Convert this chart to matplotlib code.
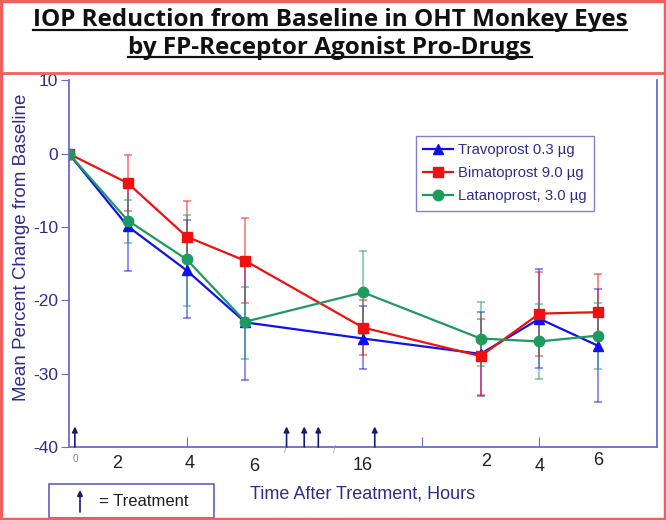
import numpy as np
import matplotlib
matplotlib.use("Agg")
import matplotlib.pyplot as plt
from matplotlib.patches import Rectangle
from matplotlib.lines import Line2D

# time of each reading in hours after first dose (day-2 readings at 24 + h)
hours = [0, 2, 4, 6, 16, 26, 28, 30]
hour_labels = ["0", "2", "4", "6", "16", "2", "4", "6"]
treatment_hours = [0.2, 9.5, 11, 12.2, 17]

travo = [0, -9.9, -15.9, -23.0, -25.2, -27.3, -22.5, -26.2]
travo_lo = [0, -16.0, -22.4, -30.8, -29.4, -33.0, -29.2, -33.8]
travo_hi = [0, -3.8, -9.0, -15.2, -20.8, -21.6, -15.7, -18.5]

bimat = [0, -4.0, -11.3, -14.6, -23.7, -27.6, -21.8, -21.6]
bimat_lo = [0, -7.8, -16.2, -20.4, -27.5, -32.9, -27.6, -26.8]
bimat_hi = [0, -0.2, -6.5, -8.7, -20.0, -22.6, -16.1, -16.4]

latan = [0, -9.1, -14.4, -22.9, -18.9, -25.2, -25.6, -24.8]
latan_lo = [0, -12.2, -20.7, -28.0, -24.6, -28.9, -30.7, -29.4]
latan_hi = [0, -6.3, -8.4, -18.2, -13.2, -20.2, -20.5, -20.3]

W, H = 666, 520
NAVY = "#2e2e8a"
AXC = "#6b6bc8"
plt.rcParams["font.family"] = ["Liberation Sans", "DejaVu Sans"]
plt.rcParams["axes.unicode_minus"] = False

# broken time axis: hours -> slot position
knot_h = [0, 6, 16, 26, 30, 32]
knot_p = [0, 3, 5, 7, 9, 10]
fwd = lambda h: np.interp(h, knot_h, knot_p)
inv = lambda p: np.interp(p, knot_p, knot_h)

fig = plt.figure(figsize=(W / 100, H / 100), dpi=100)
ax = fig.add_axes([69 / W, 73 / H, 588 / W, 366.5 / H])
ax.set_xscale("function", functions=(fwd, inv))
ax.set_xlim(0, 32)
ax.set_ylim(-40, 10)

series = [
    ("Travoprost 0.3 µg", travo, travo_lo, travo_hi, "#1010f0", "^"),
    ("Bimatoprost 9.0 µg", bimat, bimat_lo, bimat_hi, "#f01010", "s"),
    ("Latanoprost, 3.0 µg", latan, latan_lo, latan_hi, "#1f9a5f", "o"),
]
for label, y, lo, hi, col, mk in series:
    y = np.array(y)
    err = [y - np.array(lo), np.array(hi) - y]
    ax.errorbar(hours[1:], y[1:], yerr=[err[0][1:], err[1][1:]], fmt="none",
                ecolor=col, alpha=0.55, elinewidth=1.2, capsize=3, capthick=1.2, zorder=2)
    ax.plot(hours, y, color=col, lw=1.6, marker=mk, markersize=7.5, label=label, zorder=3)

ax.spines["top"].set_visible(False)
for s in ["left", "bottom", "right"]:
    ax.spines[s].set_color(AXC)
    ax.spines[s].set_linewidth(1.3)

ax.set_yticks(range(-40, 11, 10))
ax.tick_params(axis="y", direction="out", length=6, color=AXC, labelcolor=NAVY,
               labelsize=12.5, pad=2)
ax.set_xticks([4, 21, 28])
ax.set_xticklabels([])
ax.tick_params(axis="x", direction="in", length=7, color=AXC)

# hand-placed hour labels under the broken axis
lab_h = [0.2, 1.65, 4.1, 6.75, 16, 26.2, 28, 30]
lab_y = [-41.6, -42.3, -42.3, -42.6, -42.5, -42.0, -42.6, -41.8]
for h, yv, t in zip(lab_h, lab_y, hour_labels):
    small = t == "0" and h < 1
    ax.text(h, yv, t, ha="center", va="center", clip_on=False,
            fontsize=7 if small else 13, color="#888888" if small else "#202020")

# axis break marks
for h in [9.4, 13.6]:
    ax.text(h, -40.4, "/", ha="center", va="center", fontsize=7, color="#999999", clip_on=False)

# treatment arrows
for h in treatment_hours:
    ax.annotate("", xy=(h, -37.2), xytext=(h, -40),
                arrowprops=dict(arrowstyle="-|>", color="#1a1a70", lw=1.2, mutation_scale=8,
                                shrinkA=0, shrinkB=0))

leg = ax.legend(loc="upper left", bbox_to_anchor=(0.59, 0.849), borderaxespad=0,
                fontsize=10.7, frameon=True, fancybox=False, handlelength=2.0,
                labelspacing=0.6, borderpad=0.5, handletextpad=0.3)
leg.get_frame().set_edgecolor("#6060c0")
leg.get_frame().set_linewidth(1.0)
for t in leg.get_texts():
    t.set_color(NAVY)

fig.text(22 / W, 1 - 247 / H, "Mean Percent Change from Baseline", rotation=90,
         ha="center", va="center", fontsize=13.5, color=NAVY)
fig.text(363 / W, 1 - 494 / H, "Time After Treatment, Hours", ha="center", va="center",
         fontsize=13, color=NAVY)

# treatment key box
fig.patches.append(Rectangle((49 / W, 1 - 518 / H), 165 / W, 34 / H, transform=fig.transFigure,
                             fill=False, edgecolor="#6060c0", lw=1.2))
ax.annotate("", xy=(80 / W, 1 - 490 / H), xytext=(80 / W, 1 - 512 / H),
            xycoords="figure fraction", textcoords="figure fraction",
            arrowprops=dict(arrowstyle="-|>", color="#1a1a70", lw=1.2, mutation_scale=8,
                            shrinkA=0, shrinkB=0))
fig.text(99 / W, 1 - 501 / H, "= Treatment", ha="left", va="center", fontsize=12, color="#202020")

# title block
fig.patches.append(Rectangle((0, 1 - 74 / H), 1, 74 / H, transform=fig.transFigure,
                             facecolor="white", edgecolor="none", zorder=5))
titles = [("IOP Reduction from Baseline in OHT Monkey Eyes", 26.5),
          ("by FP-Receptor Agonist Pro-Drugs", 53.5)]
tobjs = []
for txt, ypx in titles:
    tobjs.append(fig.text(330 / W, 1 - ypx / H, txt, ha="center", va="baseline",
                          fontsize=17.5, fontweight="bold", family=["Open Sans", "DejaVu Sans"],
                          color="#111111", zorder=6))
fig.canvas.draw()
for t in tobjs:
    bb = t.get_window_extent()
    yb = t.get_position()[1] - 3.5 / H
    fig.add_artist(Line2D([bb.x0 / W, bb.x1 / W], [yb, yb], transform=fig.transFigure,
                          color="#111111", lw=1.6, zorder=6))

# red frame
red = "#f06060"
fig.add_artist(Line2D([0, 1], [1 - 73 / H, 1 - 73 / H], transform=fig.transFigure, color=red, lw=2, zorder=7))
fig.patches.append(Rectangle((0.0015, 0.002), 0.997, 0.996, transform=fig.transFigure,
                             fill=False, edgecolor=red, lw=2.5, zorder=7))

fig.savefig("out.png", dpi=100)
